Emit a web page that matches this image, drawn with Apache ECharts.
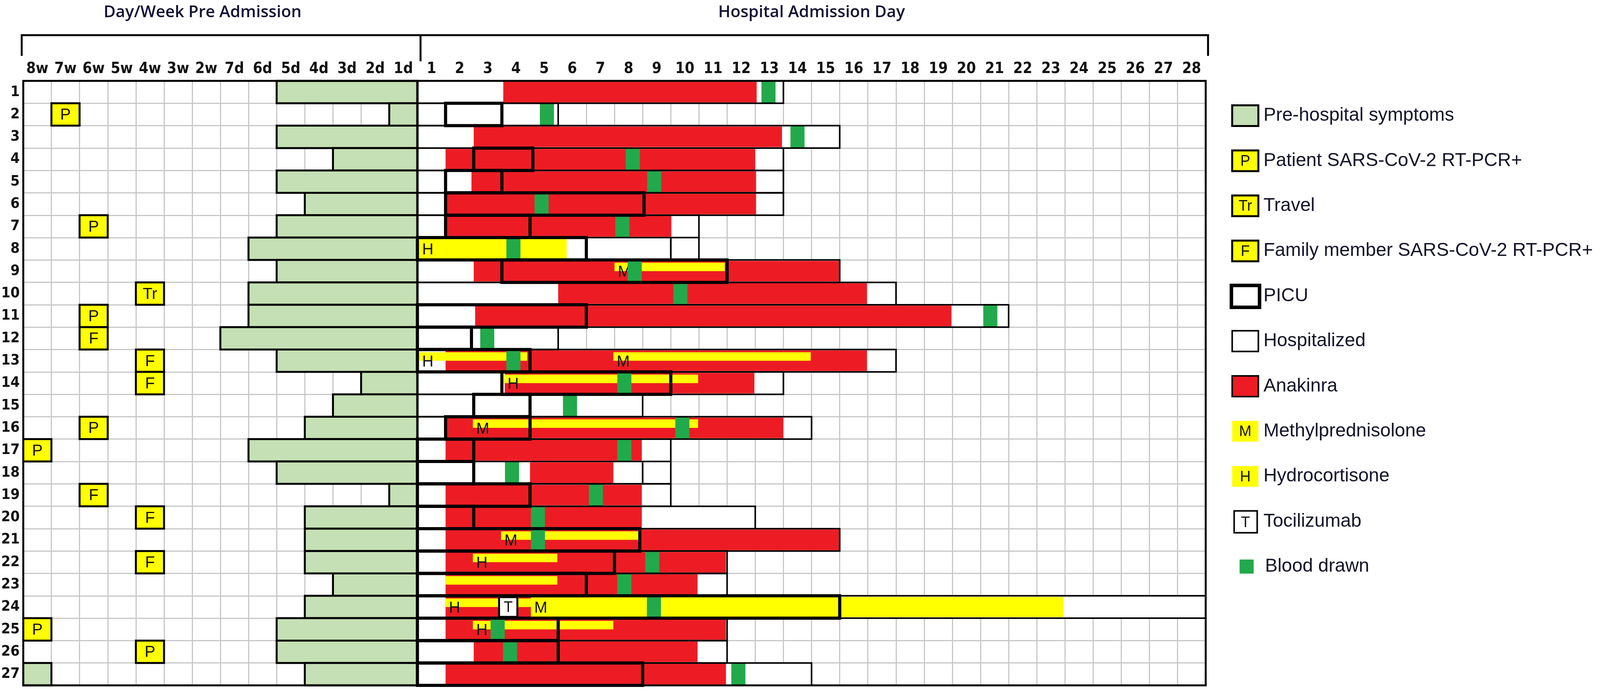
<!DOCTYPE html>
<html>
<head>
<meta charset="utf-8">
<title>Patient timeline</title>
<script src="https://cdn.jsdelivr.net/npm/echarts@6/dist/echarts.min.js"></script>
<style>
html, body { margin: 0; padding: 0; background: #fff; overflow: hidden; }
#main { width: 100vw; height: 100vh; }
</style>
</head>
<body>
<div id="main"></div>
<script>
// column labels
var preLabels = ['8w', '7w', '6w', '5w', '4w', '3w', '2w', '7d', '6d', '5d', '4d', '3d', '2d', '1d'];
var dayLabels = ['1', '2', '3', '4', '5', '6', '7', '8', '9', '10', '11', '12', '13', '14',
  '15', '16', '17', '18', '19', '20', '21', '22', '23', '24', '25', '26', '27', '28'];
var patients = ['1', '2', '3', '4', '5', '6', '7', '8', '9', '10', '11', '12', '13', '14',
  '15', '16', '17', '18', '19', '20', '21', '22', '23', '24', '25', '26', '27'];

// first day/week of pre-hospital symptoms per patient (symptoms last until admission)
var symptomStart = ['5d', '1d', '5d', '3d', '5d', '4d', '5d', '6d', '5d', '6d', '6d', '7d', '5d', '2d',
  '3d', '4d', '6d', '5d', '1d', '4d', '4d', '4d', '3d', '4d', '5d', '5d', '4d'];
var symptomExtra = [[27, '8w']];

// [patient, week/day]
var patientPcr = [[2, '7w'], [7, '6w'], [11, '6w'], [16, '6w'], [17, '8w'], [25, '8w'], [26, '4w']];
var travel = [[10, '4w']];
var familyPcr = [[12, '6w'], [13, '4w'], [14, '4w'], [19, '6w'], [20, '4w'], [22, '4w']];

// hospital part: [patient, from, to] in days after admission (0 = start of day 1)
var ward = [
  [1, 0, 13], [2, 0, 1], [2, 3, 5], [3, 0, 15], [4, 0, 2], [4, 4.1, 13], [5, 0, 1], [5, 3, 13],
  [6, 0, 1], [6, 8.05, 13], [7, 0, 1], [7, 4, 10], [8, 6, 9], [8, 9, 10], [9, 0, 3], [9, 11, 15],
  [10, 0, 17], [11, 6, 21], [12, 1.92, 5], [13, 4, 17], [14, 0, 3], [14, 9, 13], [15, 0, 2], [15, 4, 8],
  [16, 0, 1], [16, 4, 14], [17, 2, 9], [18, 2, 8], [18, 8, 9], [19, 4, 9], [20, 2, 12], [21, 7.9, 15],
  [22, 7, 11], [23, 6, 11], [24, 15, 28], [25, 5, 11], [26, 5, 11], [27, 8, 14]
];
var picu = [
  [2, 1, 3], [4, 2, 4.1], [5, 1, 3], [6, 1, 8.05], [7, 1, 4], [8, 0, 6], [9, 3, 11], [11, 0, 6],
  [12, 0, 1.92], [13, 0, 4], [14, 3, 9], [15, 2, 4], [16, 1, 4], [17, 0, 2], [18, 0, 2], [19, 0, 4],
  [20, 0, 2], [21, 0, 7.9], [22, 0, 7], [23, 0, 6], [24, 0, 15], [25, 0, 5], [26, 0, 5], [27, 0, 8]
];
var anakinra = [
  [1, 3.05, 12.05], [3, 2, 12.95], [4, 1, 12], [5, 1.92, 12.03], [6, 1.03, 12.03], [7, 0.95, 9.02],
  [9, 2, 15], [10, 5, 15.97], [11, 2.05, 18.97], [13, 1, 15.97], [14, 3.1, 11.97], [16, 1, 13],
  [17, 1, 7.97], [18, 4, 6.96], [19, 1, 7.97], [20, 1, 7.97], [21, 1, 15], [22, 1, 10.96],
  [23, 1, 9.95], [24, 1, 4.03], [25, 1, 10.96], [26, 2, 9.95], [27, 1, 10.96]
];
// M = methylprednisolone, H = hydrocortisone
var steroids = [
  [8, 0.05, 5.3, 'H'], [9, 7, 10.92, 'M'], [13, 0.05, 3.9, 'H'], [13, 6.96, 13.97, 'M'],
  [14, 3.08, 9.97, 'H'], [16, 1.97, 9.97, 'M'], [21, 2.97, 7.85, 'M'], [22, 1.97, 4.97, 'H'],
  [23, 1, 4.97, ''], [24, 1, 4.03, 'H'], [24, 4.03, 22.95, 'M'], [25, 1.97, 6.96, 'H']
];
var tocilizumab = [[24, 2.9, 3.55]];
// blood drawn, day after admission, per patient 1..27
var bloodDrawn = [12.47, 4.6, 13.5, 7.65, 8.41, 4.41, 7.28, 3.41, 7.72, 9.34, 20.35, 2.48, 3.41, 7.35,
  5.42, 9.41, 7.35, 3.36, 6.34, 4.28, 4.28, 8.34, 7.35, 8.4, 2.85, 3.29, 11.4];

var GREEN = '#c5e0b4', YELLOW = '#ffff00', RED = '#ed1c24', BLOOD = '#22a94b';
var NARROW = "'Liberation Sans Narrow', 'DejaVu Sans Condensed', 'Liberation Sans', sans-serif";
var SANS = '"Liberation Sans", Arial, sans-serif';
var ADMIT = preLabels.length;

var chart = echarts.init(document.getElementById('main'));
var W = chart.getWidth(), H = chart.getHeight();
var sx = W / 4350, sy = H / 1771, sf = Math.min(sx, sy);
function px(v) { return Math.round(v * sf); }
var GRID = { left: 60 * sx, right: 1072 * sx, top: 207 * sy, bottom: 17 * sy };

/**
 * rectangle for one row between x0 and x1, t/b = part of the row height
 */
function rowBox(api, x0, x1, row, t, b) {
  var a = api.coord([x0, row]);
  var c = api.coord([x1, row]);
  var h = api.size([0, 1])[1];
  var top = a[1] - h / 2;
  return { x: a[0], y: top + h * t, width: c[0] - a[0], height: h * (b - t) };
}

// build series data
var symptomData = [];
symptomStart.forEach(function (lab, i) {
  symptomData.push([preLabels.indexOf(lab), i, ADMIT]);
});
symptomExtra.forEach(function (e) {
  var c = preLabels.indexOf(e[1]);
  symptomData.push([c, e[0] - 1, c + 1]);
});

var markerData = [], markerText = [];
[[patientPcr, 'P'], [travel, 'Tr'], [familyPcr, 'F']].forEach(function (g) {
  g[0].forEach(function (e) {
    var c = preLabels.indexOf(e[1]);
    markerData.push([c, e[0] - 1, c + 1]);
    markerText.push(g[1]);
  });
});

var stayData = [], stayIcu = [];
ward.forEach(function (e) { stayData.push([ADMIT + e[1], e[0] - 1, ADMIT + e[2]]); stayIcu.push(false); });
picu.forEach(function (e) { stayData.push([ADMIT + e[1], e[0] - 1, ADMIT + e[2]]); stayIcu.push(true); });

var redData = anakinra.map(function (e) { return [ADMIT + e[1], e[0] - 1, ADMIT + e[2]]; });

var steroidData = [], steroidText = [], steroidHalf = [];
steroids.forEach(function (e) {
  steroidData.push([ADMIT + e[1], e[0] - 1, ADMIT + e[2]]);
  steroidText.push(e[3]);
  // on top of anakinra the steroid bar takes the upper half of the row
  steroidHalf.push(anakinra.some(function (a) { return a[0] === e[0] && a[1] < e[2] && a[2] > e[1]; }));
});

var tociData = tocilizumab.map(function (e) { return [ADMIT + e[1], e[0] - 1, ADMIT + e[2]]; });
var bloodData = bloodDrawn.map(function (d, i) { return [ADMIT + d, i, ADMIT + d]; });

function custom(name, data, renderItem) {
  return {
    name: name, type: 'custom', silent: true, xAxisIndex: 0, yAxisIndex: 0,
    encode: { x: [0, 2], y: 1 }, data: data, renderItem: renderItem
  };
}
function font(size, fam, weight) {
  return (weight ? weight + ' ' : '') + px(size) + 'px ' + fam;
}

var option = {
  animation: false,
  backgroundColor: '#fff',
  grid: GRID,
  xAxis: [{
    type: 'value', min: 0, max: ADMIT + dayLabels.length, interval: 1, position: 'top',
    axisLine: { show: false }, axisTick: { show: false }, axisLabel: { show: false },
    splitLine: { show: true, lineStyle: { color: '#c8c8c8', width: px(3) } }
  }, {
    type: 'category', data: preLabels.concat(dayLabels), position: 'top', boundaryGap: true,
    axisLine: { show: false }, axisTick: { show: false }, splitLine: { show: false },
    axisLabel: { interval: 0, margin: px(12), fontSize: px(41), fontWeight: 'bold', color: '#111', fontFamily: NARROW }
  }],
  yAxis: {
    type: 'category', data: patients, inverse: true,
    axisLine: { show: false }, axisTick: { show: false },
    axisLabel: { interval: 0, margin: px(10), fontSize: px(40), fontWeight: 'bold', color: '#111', fontFamily: NARROW },
    splitLine: { show: true, interval: 0, lineStyle: { color: '#c8c8c8', width: px(3) } }
  },
  series: [
    custom('Pre-hospital symptoms', symptomData, function (params, api) {
      return {
        type: 'rect', shape: rowBox(api, api.value(0), api.value(2), api.value(1), 0, 1),
        style: { fill: GREEN, stroke: '#000', lineWidth: px(5) }
      };
    }),
    custom('markers', markerData, function (params, api) {
      var s = rowBox(api, api.value(0), api.value(2), api.value(1), 0, 1);
      return {
        type: 'group', children: [
          { type: 'rect', shape: s, style: { fill: YELLOW, stroke: '#000', lineWidth: px(5) } },
          { type: 'text', x: s.x + s.width / 2, y: s.y + s.height / 2 + px(2),
            style: { text: markerText[params.dataIndex], fill: '#111', font: font(44, SANS),
              align: 'center', verticalAlign: 'middle' } }
        ]
      };
    }),
    custom('stay fill', stayData, function (params, api) {
      return {
        type: 'rect', shape: rowBox(api, api.value(0), api.value(2), api.value(1), 0, 1),
        style: { fill: '#fff' }
      };
    }),
    custom('Anakinra', redData, function (params, api) {
      return {
        type: 'rect', shape: rowBox(api, api.value(0), api.value(2), api.value(1), 0.04, 0.96),
        style: { fill: RED }
      };
    }),
    custom('steroids', steroidData, function (params, api) {
      var half = steroidHalf[params.dataIndex];
      var s = rowBox(api, api.value(0), api.value(2), api.value(1), half ? 0.12 : 0.05, half ? 0.5 : 0.95);
      var full = rowBox(api, api.value(0), api.value(2), api.value(1), 0, 1);
      var col = api.size([1, 0])[0];
      return {
        type: 'group', children: [
          { type: 'rect', shape: s, style: { fill: YELLOW } },
          { type: 'text', x: full.x + col * 0.12, y: full.y + full.height * 0.56,
            style: { text: steroidText[params.dataIndex], fill: '#111', font: font(42, SANS),
              align: 'left', verticalAlign: 'middle' } }
        ]
      };
    }),
    custom('stay outline', stayData, function (params, api) {
      return {
        type: 'rect', shape: rowBox(api, api.value(0), api.value(2), api.value(1), 0, 1),
        style: { fill: 'none', stroke: '#000', lineWidth: stayIcu[params.dataIndex] ? px(9) : px(4) },
        z2: stayIcu[params.dataIndex] ? 2 : 1
      };
    }),
    custom('Tocilizumab', tociData, function (params, api) {
      var s = rowBox(api, api.value(0), api.value(2), api.value(1), 0.06, 0.94);
      return {
        type: 'group', children: [
          { type: 'rect', shape: s, style: { fill: '#fff', stroke: '#000', lineWidth: px(5) } },
          { type: 'text', x: s.x + s.width / 2, y: s.y + s.height / 2 + px(2),
            style: { text: 'T', fill: '#111', font: font(40, SANS),
              align: 'center', verticalAlign: 'middle' } }
        ]
      };
    }),
    custom('Blood drawn', bloodData, function (params, api) {
      var c = api.coord([api.value(0), api.value(1)]);
      var w = api.size([0.5, 0])[0];
      var h = api.size([0, 0.65])[1];
      return {
        type: 'rect', shape: { x: c[0] - w / 2, y: c[1] - h / 2, width: w, height: h, r: px(3) },
        style: { fill: BLOOD }
      };
    })
  ]
};

chart.setOption(option);

// frame, bracket, titles and legend
var xL = chart.convertToPixel({ xAxisIndex: 0 }, 0);
var xA = chart.convertToPixel({ xAxisIndex: 0 }, ADMIT);
var xR = chart.convertToPixel({ xAxisIndex: 0 }, ADMIT + dayLabels.length);
var yT = GRID.top, yB = H - GRID.bottom;

var legendItems = [
  { kind: 'symptom', text: 'Pre-hospital symptoms' },
  { kind: 'marker', letter: 'P', text: 'Patient SARS-CoV-2 RT-PCR+' },
  { kind: 'marker', letter: 'Tr', text: 'Travel' },
  { kind: 'marker', letter: 'F', text: 'Family member SARS-CoV-2 RT-PCR+' },
  { kind: 'picu', text: 'PICU' },
  { kind: 'ward', text: 'Hospitalized' },
  { kind: 'anakinra', text: 'Anakinra' },
  { kind: 'steroid', letter: 'M', text: 'Methylprednisolone' },
  { kind: 'steroid', letter: 'H', text: 'Hydrocortisone' },
  { kind: 'toci', letter: 'T', text: 'Tocilizumab' },
  { kind: 'blood', text: 'Blood drawn' }
];

var bracketY = 90 * sy;
var graphics = [
  { type: 'rect', z: 100, shape: { x: xL, y: yT, width: xR - xL, height: yB - yT },
    style: { fill: 'none', stroke: '#000', lineWidth: px(5) } },
  { type: 'line', z: 100, shape: { x1: xA, y1: yT, x2: xA, y2: yB }, style: { stroke: '#000', lineWidth: px(6) } },
  { type: 'polyline', z: 100,
    shape: { points: [[xL - px(4), 143 * sy], [xL - px(4), bracketY], [xR + px(6), bracketY], [xR + px(6), 143 * sy]] },
    style: { fill: 'none', stroke: '#000', lineWidth: px(5) } },
  { type: 'line', z: 100, shape: { x1: xA + px(8), y1: bracketY, x2: xA + px(8), y2: 157 * sy },
    style: { stroke: '#000', lineWidth: px(5) } },
  { type: 'text', z: 100, x: xL + (xA - xL) * 0.455, y: 32 * sy,
    style: { text: 'Day/Week Pre Admission', fill: '#111133', font: font(45, '"Open Sans", sans-serif', 600),
      align: 'center', verticalAlign: 'middle' } },
  { type: 'text', z: 100, x: (xA + xR) / 2, y: 32 * sy,
    style: { text: 'Hospital Admission Day', fill: '#111133', font: font(45, '"Open Sans", sans-serif', 600),
      align: 'center', verticalAlign: 'middle' } }
];

var lx = xR + 72 * sx, tx = xR + 157 * sx;
legendItems.forEach(function (it, i) {
  var cy = (296 + i * 115.4) * sy;
  var w = px(71), h = px(56);
  var box = { x: lx, y: cy - h / 2, width: w, height: h };
  var letterFont = font(40, SANS);
  if (it.kind === 'symptom') {
    graphics.push({ type: 'rect', shape: box, style: { fill: GREEN, stroke: '#000', lineWidth: px(5) } });
  } else if (it.kind === 'marker' || it.kind === 'steroid') {
    graphics.push({ type: 'rect', shape: box,
      style: it.kind === 'marker' ? { fill: YELLOW, stroke: '#000', lineWidth: px(5) } : { fill: YELLOW } });
    graphics.push({ type: 'text', x: lx + w / 2, y: cy + px(2),
      style: { text: it.letter, fill: '#111', font: letterFont, align: 'center', verticalAlign: 'middle' } });
  } else if (it.kind === 'picu') {
    graphics.push({ type: 'rect', shape: { x: lx - px(2), y: cy - px(29), width: px(76), height: px(60) },
      style: { fill: '#fff', stroke: '#000', lineWidth: px(10) } });
  } else if (it.kind === 'ward') {
    graphics.push({ type: 'rect', shape: box, style: { fill: '#fff', stroke: '#000', lineWidth: px(4) } });
  } else if (it.kind === 'anakinra') {
    graphics.push({ type: 'rect', shape: box, style: { fill: RED, stroke: '#000', lineWidth: px(4) } });
  } else if (it.kind === 'toci') {
    graphics.push({ type: 'rect', shape: { x: lx + px(5), y: cy - px(29), width: px(63), height: px(60) },
      style: { fill: '#fff', stroke: '#000', lineWidth: px(4) } });
    graphics.push({ type: 'text', x: lx + px(36), y: cy + px(4),
      style: { text: it.letter, fill: '#111', font: letterFont, align: 'center', verticalAlign: 'middle' } });
  } else if (it.kind === 'blood') {
    graphics.push({ type: 'rect', shape: { x: lx + px(20), y: cy - px(19), width: px(38), height: px(38) },
      style: { fill: BLOOD } });
  }
  graphics.push({ type: 'text', x: it.kind === 'blood' ? tx + px(4) : tx, y: cy,
    style: { text: it.text, fill: '#14142a', font: font(51, SANS),
      align: 'left', verticalAlign: 'middle' } });
});

chart.setOption({ graphic: graphics });
</script>
</body>
</html>
